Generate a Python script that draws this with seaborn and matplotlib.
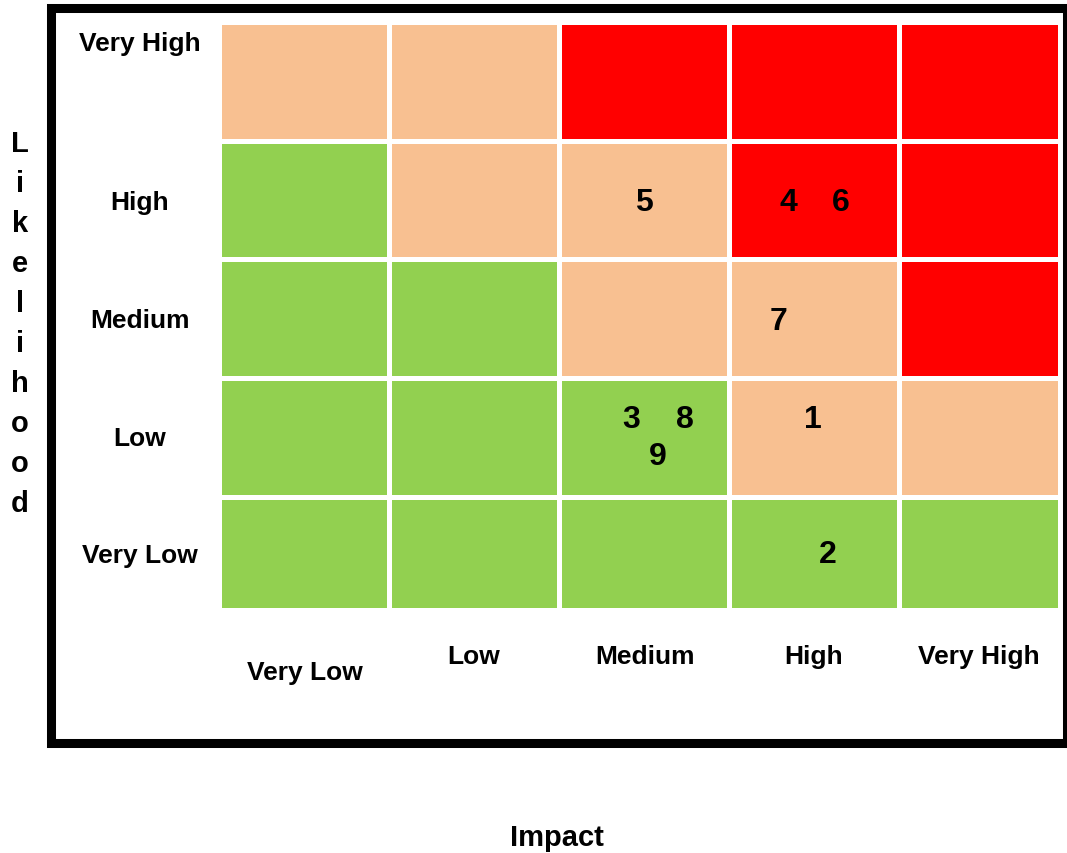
import matplotlib
matplotlib.use("Agg")
import matplotlib.pyplot as plt
from matplotlib.colors import ListedColormap
from matplotlib.patches import Rectangle
import numpy as np
import pandas as pd
import seaborn as sns

# ---------------- data ----------------
likelihood_levels = ["Very High", "High", "Medium", "Low", "Very Low"]
impact_levels = ["Very Low", "Low", "Medium", "High", "Very High"]

# risk level per cell: 1 = low (green), 2 = medium (peach), 3 = high (red)
row_very_high = [2, 2, 3, 3, 3]
row_high = [1, 2, 2, 3, 3]
row_medium = [1, 1, 2, 2, 3]
row_low = [1, 1, 1, 2, 2]
row_very_low = [1, 1, 1, 1, 1]

risk_ids = ["1", "2", "3", "4", "5", "6", "7", "8", "9"]
risk_impact = ["High", "High", "Medium", "High", "Medium", "High", "High", "Medium", "Medium"]
risk_likelihood = ["Low", "Very Low", "Low", "High", "High", "High", "Medium", "Low", "Low"]

level_colors = ["#92D050", "#F8C091", "#FF0000"]

# ---------------- layout ----------------
W, H = 1067, 854
# offsets of each risk number inside its cell (cell units)
risk_dx = [-0.005, 0.08, -0.075, -0.15, 0.0, 0.16, -0.21, 0.24, 0.08]
risk_dy = [-0.155, -0.015, -0.155, 0.015, 0.015, 0.015, 0.015, -0.155, 0.155]

FONT = "Liberation Sans"

matrix = pd.DataFrame(
    [row_very_high, row_high, row_medium, row_low, row_very_low],
    index=likelihood_levels, columns=impact_levels,
)

fig = plt.figure(figsize=(W / 100, H / 100), dpi=100)
fig.patch.set_facecolor("white")

col_px, row_px = 170.0, 118.7
ax_left, ax_right, ax_top, ax_bottom = 219.0, 1058.0, 23.0, 609.0
ax = fig.add_axes([ax_left / W, 1 - ax_bottom / H,
                   (ax_right - ax_left) / W, (ax_bottom - ax_top) / H])

sns.heatmap(matrix, ax=ax, cmap=ListedColormap(level_colors), vmin=0.5, vmax=3.5,
            cbar=False, linewidths=2.2, linecolor="white", square=False)
ax.set_xlim(0, (ax_right - ax_left) / col_px)
ax.set_ylim((ax_bottom - ax_top) / row_px, 0)
ax.set_xticks([])
ax.set_yticks([])
ax.set_xlabel("")
ax.set_ylabel("")
for s in ax.spines.values():
    s.set_visible(False)

# risk numbers
for rid, imp, lik, dx, dy in zip(risk_ids, risk_impact, risk_likelihood, risk_dx, risk_dy):
    cx = impact_levels.index(imp) + 0.5 + dx
    cy = likelihood_levels.index(lik) + 0.5 + dy
    ax.text(cx, cy, rid, ha="center", va="center", fontsize=23,
            fontweight="bold", family=FONT, color="black")


def ftext(px, py, s, **kw):
    fig.text(px / W, 1 - py / H, s, ha="center", va="center",
             fontweight="bold", family=FONT, color="black", **kw)


# likelihood (y) labels
y_label_px = [44, 203, 321, 439, 556]
for lab, py in zip(likelihood_levels, y_label_px):
    ftext(140, py, lab, fontsize=19)

# impact (x) labels
x_label_px = [(305, 673), (474, 657), (645, 657), (814, 657), (979, 657)]
for lab, (px, py) in zip(impact_levels, x_label_px):
    ftext(px, py, lab, fontsize=19)

# axis titles
for i, ch in enumerate("Likelihood"):
    ftext(20, 144 + 40 * i, ch, fontsize=21)
ftext(557, 838, "Impact", fontsize=21)

# thick frame
fig.add_artist(Rectangle((50.5 / W, 1 - 743.5 / H), (1066.5 - 50.5) / W,
                         (743.5 - 8.5) / H, transform=fig.transFigure,
                         fill=False, lw=6.5, edgecolor="black", joinstyle="miter"))

fig.savefig("out.png", dpi=100)
